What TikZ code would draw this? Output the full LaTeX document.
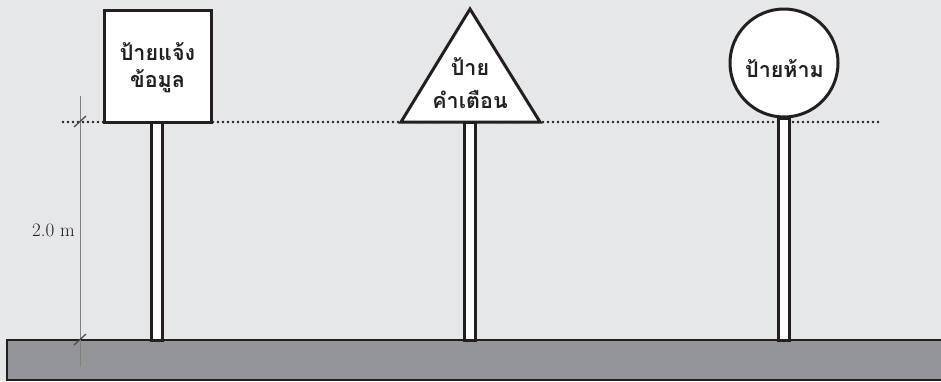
\documentclass[tikz,border=0pt]{standalone}
\usepackage{fontspec}
\newfontfamily\thaifont[Script=Thai]{Loma}
\definecolor{bg}{HTML}{E6E7E8}
\definecolor{ground}{HTML}{939598}
\definecolor{ink}{HTML}{231F20}
\definecolor{dimgray}{HTML}{808080}
\begin{document}
\begin{tikzpicture}[x=1pt,y=-1pt,
  signline/.style={draw=ink,line width=3pt,fill=white},
  postbox/.style={draw=ink,line width=3pt,fill=white},
  signtext/.style={font=\thaifont\bfseries\fontsize{21.5}{27}\selectfont,align=center,text=ink,inner sep=0pt,anchor=base},
  dimline/.style={draw=dimgray,line width=1.3pt},
  tickmark/.style={draw=ink!80,line width=1.3pt},
  level/.style={draw=ink,line width=2.7pt,line cap=round,dash pattern=on 0pt off 5pt}]
\useasboundingbox[fill=bg] (0,0) rectangle (941,381);
% level line
\coordinate (lvlL) at (63,122);
\coordinate (lvlR) at (882,122);
\draw[level] (lvlL) -- (lvlR);
% ground
\draw[draw=ink,line width=2pt,fill=ground] (7,340) rectangle (960,380);
% posts
\draw[postbox] (151.5,122) rectangle (162.5,340);
\draw[postbox] (464.5,122) rectangle (475.5,340);
\draw[postbox] (778.5,118) rectangle (789.5,340);
% square sign
\draw[signline] (104,10) rectangle (211,122);
\node[signtext] (info) at (157.5,87) {ป้ายแจ้ง\\ข้อมูล};
% triangle sign
\draw[signline,line join=miter] (470,9) -- (540,122) -- (401,122) -- cycle;
\node[signtext] (warn) at (470,108) {ป้าย\\[6pt]คำเตือน};
% circle sign
\draw[signline] (784,63) circle (54);
\node[signtext] (prohibit) at (784.5,77) {ป้ายห้าม};
% dimension
\coordinate (dimT) at (80.5,96);
\coordinate (dimB) at (80.5,367);
\draw[dimline] (dimT) -- (dimB);
\draw[tickmark] (74,127) -- (86,116);
\draw[tickmark] (74,345) -- (86,334);
\node[anchor=base east,font=\fontsize{19}{21}\selectfont,text=ink,inner sep=0pt] (dimlabel) at (75,236) {2.0 m};
\end{tikzpicture}
\end{document}
